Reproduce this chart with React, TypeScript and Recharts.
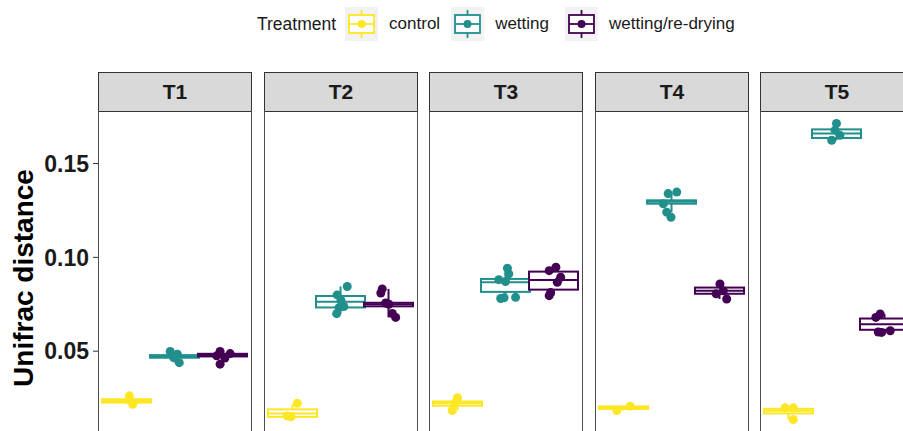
import { Bar, ComposedChart, Scatter, XAxis, YAxis } from "recharts"

const timepoints = ["T1", "T2", "T3", "T4", "T5"]
const treatments = ["control", "wetting", "wetting/re-drying"]
const treatmentColors = ["#FDE725", "#21908C", "#440154"]

// [lower whisker, q1, median, q3, upper whisker] per time point
const controlBoxes = [
    [0.0217, 0.0226, 0.0235, 0.0244, 0.0262],
    [0.015, 0.015, 0.0168, 0.019, 0.0217],
    [0.0184, 0.0209, 0.0222, 0.0232, 0.0252],
    [0.0184, 0.0192, 0.0199, 0.0206, 0.0207],
    [0.0136, 0.0168, 0.0182, 0.0193, 0.0198],
]
const wettingBoxes = [
    [0.0439, 0.0465, 0.0472, 0.0479, 0.0498],
    [0.07, 0.0733, 0.0764, 0.0794, 0.0845],
    [0.0781, 0.0816, 0.0867, 0.0885, 0.0942],
    [0.1241, 0.1286, 0.1296, 0.1304, 0.134],
    [0.1624, 0.1636, 0.166, 0.1682, 0.1714],
]
const redryingBoxes = [
    [0.0431, 0.0472, 0.0479, 0.0486, 0.0498],
    [0.068, 0.0739, 0.075, 0.0758, 0.0832],
    [0.0796, 0.0828, 0.088, 0.0924, 0.0947],
    [0.0778, 0.0806, 0.0822, 0.0839, 0.0858],
    [0.06, 0.0614, 0.0644, 0.0674, 0.0698],
]

// single samples: [jittered dodge position, distance]
const controlPoints = [
    [[1.06, 0.0262], [1.13, 0.0217]],
    [[1.1, 0.0222], [0.89, 0.0154], [0.97, 0.015]],
    [[1.0, 0.0252], [0.89, 0.0184], [0.95, 0.0224]],
    [[1.14, 0.0207], [0.86, 0.0184]],
    [[0.93, 0.0198], [1.1, 0.0198], [1.1, 0.0136]],
]
const wettingPoints = [
    [[1.91, 0.0498], [2.06, 0.0484], [2.1, 0.0439], [1.98, 0.0466]],
    [[2.14, 0.0845], [1.93, 0.08], [2.01, 0.077], [1.97, 0.0732], [1.92, 0.07], [2.07, 0.0738]],
    [[2.04, 0.0942], [2.07, 0.0912], [1.86, 0.0881], [2.0, 0.0871], [1.97, 0.0785], [1.9, 0.0781], [2.21, 0.0787]],
    [[2.11, 0.1348], [1.93, 0.134], [1.83, 0.1286], [1.9, 0.1241], [1.99, 0.1214]],
    [[2.0, 0.1714], [1.97, 0.1678], [2.07, 0.1651], [1.9, 0.1624]],
]
const redryingPoints = [
    [[2.95, 0.0498], [3.16, 0.0487], [2.95, 0.0431], [3.05, 0.0463], [2.88, 0.0475]],
    [[2.87, 0.0832], [2.84, 0.081], [2.94, 0.0757], [3.01, 0.075], [3.08, 0.0701], [3.15, 0.068]],
    [[3.05, 0.0947], [2.91, 0.0929], [3.15, 0.0894], [3.08, 0.0867], [2.94, 0.0813], [2.91, 0.0796]],
    [[3.01, 0.0858], [3.08, 0.0822], [3.15, 0.0778], [2.93, 0.0806]],
    [[2.91, 0.0698], [2.94, 0.06], [3.12, 0.0609], [2.87, 0.0602], [2.82, 0.068]],
]

const yTicks = [0.05, 0.1, 0.15]

const FONT = '"Liberation Sans", Arial, Helvetica, sans-serif'
const AXIS_W = 98
const PANEL_W = 154
const PANEL_STEP = 165.5
const STRIP_TOP = 72
const PLOT_TOP = 111
const PLOT_H = 334
const LINE_W = 2

function BoxShape(props: any) {
    const { x, y, width, height, stats, color } = props
    if (!stats || x == null || y == null) return null
    const [lo, q1, med, q3, hi] = stats
    const top = Math.min(y, y + height)
    const span = Math.abs(height)
    const px = (v: number) => top + ((hi - v) / (hi - lo)) * span
    const cx = x + width / 2
    return (
        <g>
            <line x1={cx} x2={cx} y1={px(hi)} y2={px(q3)} stroke={color} strokeWidth={LINE_W} />
            <line x1={cx} x2={cx} y1={px(q1)} y2={px(lo)} stroke={color} strokeWidth={LINE_W} />
            <rect x={x} y={px(q3)} width={width} height={px(q1) - px(q3)} fill="#fff" stroke={color} strokeWidth={LINE_W} />
            <line x1={x} x2={x + width} y1={px(med)} y2={px(med)} stroke={color} strokeWidth={LINE_W} />
        </g>
    )
}

function AxisTitle(props: any) {
    const vb = props.viewBox && props.viewBox.height ? props.viewBox : { y: 0, height: PLOT_H }
    const cy = vb.y + vb.height / 2
    return (
        <text
            x={23}
            y={cy}
            transform={`rotate(-90, 23, ${cy})`}
            textAnchor="middle"
            dominantBaseline="central"
            fontFamily={FONT}
            fontWeight="bold"
            fontSize={28}
            fill="#000"
        >
            Unifrac distance
        </text>
    )
}

// whisker range of one treatment in a facet row; other entries have no stats
const whiskerRange = (k: number) => (r: any) =>
    r && r.stats && r.stats[k] ? [r.stats[k][0], r.stats[k][4]] : null

function FacetPanel({ index }: { index: number }) {
    const first = index === 0
    const stats = [controlBoxes[index], wettingBoxes[index], redryingBoxes[index]]
    const points = [controlPoints[index], wettingPoints[index], redryingPoints[index]]
    const row = { time: timepoints[index], stats }
    const panelLeft = Math.round(AXIS_W + index * PANEL_STEP)

    return (
        <>
            <div
                style={{
                    position: "absolute",
                    left: panelLeft,
                    top: STRIP_TOP,
                    width: PANEL_W,
                    height: PLOT_TOP - STRIP_TOP + 1,
                    boxSizing: "border-box",
                    border: "1px solid #333",
                    background: "#D9D9D9",
                    textAlign: "center",
                    lineHeight: `${PLOT_TOP - STRIP_TOP - 1}px`,
                    fontFamily: FONT,
                    fontWeight: "bold",
                    fontSize: 21,
                    color: "#1a1a1a",
                }}
            >
                {timepoints[index]}
            </div>
            <div style={{ position: "absolute", left: first ? 0 : panelLeft, top: PLOT_TOP }}>
                <ComposedChart
                    width={first ? AXIS_W + PANEL_W : PANEL_W}
                    height={PLOT_H}
                    data={[row]}
                    margin={{ top: 0, right: 0, bottom: 0, left: 0 }}
                    barCategoryGap={4}
                    barGap={-1}
                >
                    <XAxis dataKey="time" hide />
                    <XAxis xAxisId="jitter" type="number" dataKey="x" domain={[0.406, 3.615]} allowDataOverflow hide />
                    <YAxis
                        hide={!first}
                        width={AXIS_W}
                        domain={[0, 0.178]}
                        allowDataOverflow
                        ticks={yTicks}
                        tickFormatter={(v) => Number(v).toFixed(2)}
                        axisLine={false}
                        tickSize={5}
                        tickMargin={4}
                        tickLine={{ stroke: "#333" }}
                        tick={{ fill: "#1a1a1a", fontSize: 23, fontWeight: "bold", fontFamily: FONT }}
                        label={<AxisTitle />}
                    />
                    {treatments.map((t, k) => (
                        <Bar
                            key={t}
                            dataKey={whiskerRange(k)}
                            shape={(p: any) => <BoxShape {...p} stats={stats[k]} color={treatmentColors[k]} />}
                            isAnimationActive={false}
                        />
                    ))}
                    {treatments.map((t, k) => (
                        <Scatter
                            key={t}
                            xAxisId="jitter"
                            dataKey="y"
                            data={points[k].map(([x, y]) => ({ x, y }))}
                            fill={treatmentColors[k]}
                            shape={(p: any) => <circle cx={p.cx} cy={p.cy} r={4.5} fill={treatmentColors[k]} />}
                            isAnimationActive={false}
                        />
                    ))}
                </ComposedChart>
            </div>
            <div
                style={{
                    position: "absolute",
                    left: panelLeft,
                    top: PLOT_TOP,
                    width: PANEL_W,
                    height: PLOT_H,
                    boxSizing: "border-box",
                    borderLeft: "1px solid #4d4d4d",
                    borderRight: "1px solid #4d4d4d",
                    pointerEvents: "none",
                }}
            />
        </>
    )
}

function LegendKey({ color }: { color: string }) {
    return (
        <svg width={33} height={34} style={{ display: "block" }}>
            <rect width={33} height={34} fill="#F2F2F2" />
            <line x1={16.5} x2={16.5} y1={3} y2={31} stroke={color} strokeWidth={1.8} />
            <rect x={4} y={8} width={25} height={18} fill="#fff" stroke={color} strokeWidth={1.8} />
            <line x1={4} x2={29} y1={17} y2={17} stroke={color} strokeWidth={1.8} />
            <circle cx={16.5} cy={17} r={4} fill={color} />
        </svg>
    )
}

function TreatmentLegend() {
    const gaps = [11, 16, 0]
    return (
        <div
            style={{
                position: "absolute",
                left: 257,
                top: 7,
                height: 34,
                display: "flex",
                alignItems: "center",
                fontFamily: FONT,
                fontSize: 17,
                color: "#1a1a1a",
                whiteSpace: "nowrap",
            }}
        >
            <span style={{ fontSize: 17.5, marginRight: 9 }}>Treatment</span>
            {treatments.map((t, k) => (
                <div key={t} style={{ display: "flex", alignItems: "center", marginRight: gaps[k] }}>
                    <LegendKey color={treatmentColors[k]} />
                    <span style={{ marginLeft: 11 }}>{t}</span>
                </div>
            ))}
        </div>
    )
}

export default function App() {
    return (
        <div
            style={{
                position: "fixed",
                left: 0,
                top: 0,
                width: 903,
                height: 431,
                overflow: "hidden",
                background: "#fff",
            }}
        >
            <TreatmentLegend />
            {timepoints.map((t, i) => (
                <FacetPanel key={t} index={i} />
            ))}
        </div>
    )
}
